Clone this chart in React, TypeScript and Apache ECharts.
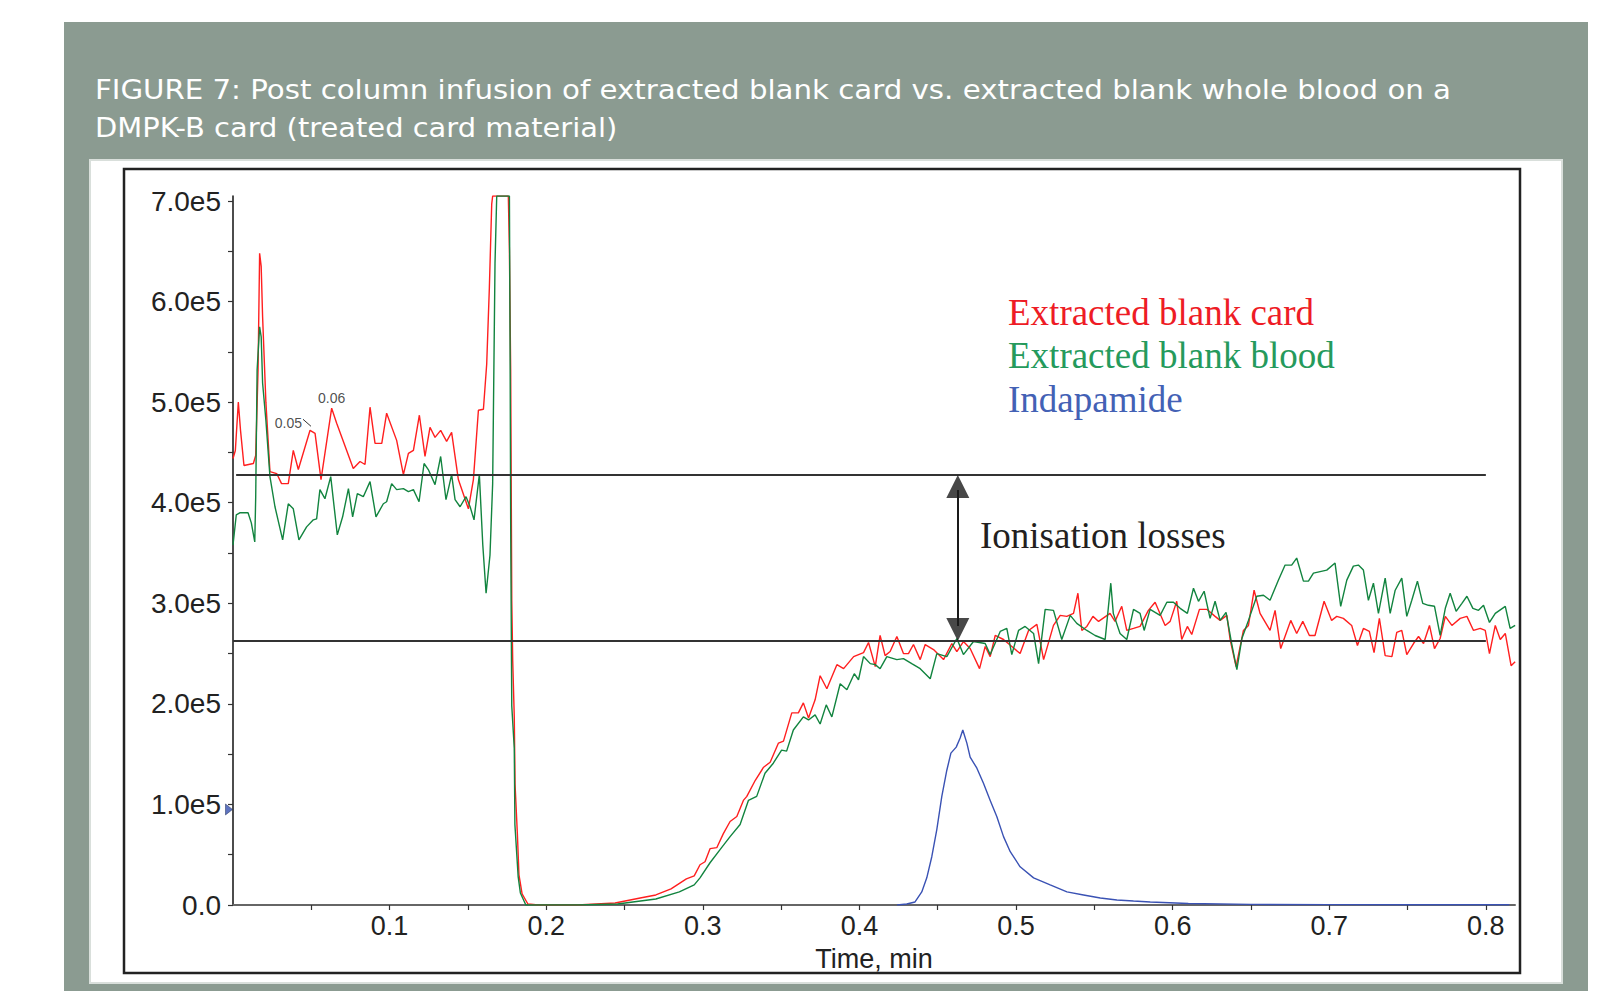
import { useEffect, useRef } from 'react';
import * as echarts from 'echarts';

// ---- Data (time in min, intensity in units of 1e5 counts) ----
const cardPoints: [number, number][] = [
  [0.0000,4.44],[0.0015,4.52],[0.0034,5.00],[0.0048,4.72],[0.0070,4.37],[0.0130,4.39],[0.0145,4.47],[0.0160,5.32],[0.0170,6.48],[0.0180,6.35],[0.0189,5.85],[0.0210,5.00],[0.0236,4.31],[0.0279,4.29],[0.0310,4.19],[0.0353,4.19],[0.0385,4.52],[0.0417,4.33],[0.0492,4.72],[0.0524,4.69],[0.0562,4.23],[0.0630,4.94],[0.0662,4.79],[0.0768,4.34],[0.0811,4.41],[0.0843,4.38],[0.0875,4.95],[0.0907,4.59],[0.0950,4.59],[0.0981,4.89],[0.1045,4.62],[0.1088,4.28],[0.1120,4.49],[0.1152,4.52],[0.1190,4.87],[0.1226,4.46],[0.1258,4.75],[0.1290,4.65],[0.1326,4.72],[0.1364,4.61],[0.1396,4.70],[0.1439,4.23],[0.1503,3.94],[0.1535,4.23],[0.1567,4.92],[0.1599,4.93],[0.1620,5.38],[0.1637,6.14],[0.1652,6.97],[0.1658,7.05],[0.1758,7.05],[0.1765,6.51],[0.1773,5.32],[0.1780,3.03],[0.1786,2.43],[0.1796,1.87],[0.1801,1.20],[0.1816,0.70],[0.1826,0.30],[0.1846,0.11],[0.1883,0.01],[0.1950,0.00],[0.2200,0.00],[0.2440,0.02],[0.2600,0.07],[0.2700,0.10],[0.2797,0.16],[0.2895,0.26],[0.2945,0.29],[0.2982,0.40],[0.3014,0.43],[0.3046,0.56],[0.3089,0.57],[0.3131,0.71],[0.3174,0.83],[0.3217,0.88],[0.3259,1.04],[0.3281,1.08],[0.3335,1.24],[0.3388,1.37],[0.3430,1.42],[0.3483,1.61],[0.3515,1.63],[0.3568,1.91],[0.3610,1.91],[0.3642,2.01],[0.3675,1.86],[0.3717,2.04],[0.3749,2.28],[0.3792,2.15],[0.3856,2.39],[0.3899,2.35],[0.3963,2.47],[0.4026,2.51],[0.4058,2.61],[0.4101,2.37],[0.4132,2.68],[0.4164,2.48],[0.4196,2.52],[0.4239,2.67],[0.4281,2.50],[0.4313,2.50],[0.4345,2.59],[0.4388,2.44],[0.4420,2.59],[0.4473,2.54],[0.4537,2.44],[0.4590,2.60],[0.4622,2.52],[0.4664,2.62],[0.4707,2.55],[0.4767,2.35],[0.4803,2.57],[0.4835,2.47],[0.4867,2.68],[0.4920,2.64],[0.4973,2.57],[0.5026,2.50],[0.5080,2.73],[0.5133,2.79],[0.5176,2.44],[0.5239,2.78],[0.5282,2.88],[0.5324,2.87],[0.5367,2.90],[0.5395,3.10],[0.5420,2.73],[0.5452,2.77],[0.5491,2.87],[0.5527,2.82],[0.5600,2.90],[0.5632,2.82],[0.5675,2.97],[0.5707,2.73],[0.5750,2.75],[0.5792,2.77],[0.5845,2.93],[0.5888,3.01],[0.5952,2.78],[0.5984,2.82],[0.6026,3.02],[0.6058,2.64],[0.6094,2.77],[0.6122,2.69],[0.6171,2.94],[0.6218,2.94],[0.6271,2.87],[0.6303,2.83],[0.6346,2.88],[0.6367,2.64],[0.6405,2.37],[0.6452,2.73],[0.6484,2.78],[0.6520,3.13],[0.6558,2.90],[0.6622,2.73],[0.6654,2.93],[0.6690,2.55],[0.6754,2.83],[0.6792,2.70],[0.6831,2.82],[0.6873,2.68],[0.6909,2.68],[0.6967,3.02],[0.7015,2.83],[0.7048,2.87],[0.7090,2.85],[0.7143,2.78],[0.7180,2.58],[0.7218,2.75],[0.7256,2.72],[0.7286,2.51],[0.7320,2.85],[0.7357,2.48],[0.7400,2.47],[0.7431,2.71],[0.7463,2.73],[0.7495,2.49],[0.7538,2.60],[0.7570,2.67],[0.7602,2.60],[0.7640,2.78],[0.7672,2.55],[0.7708,2.65],[0.7741,2.87],[0.7783,2.78],[0.7836,2.85],[0.7879,2.87],[0.7921,2.73],[0.7964,2.75],[0.7996,2.73],[0.8023,2.50],[0.8060,2.78],[0.8092,2.64],[0.8124,2.70],[0.8161,2.38],[0.8187,2.42]
];

const bloodPoints: [number, number][] = [
  [0.0000,3.58],[0.0021,3.88],[0.0043,3.90],[0.0096,3.90],[0.0117,3.80],[0.0139,3.61],[0.0145,4.06],[0.0154,5.32],[0.0170,5.75],[0.0180,5.65],[0.0189,5.19],[0.0210,4.82],[0.0236,4.26],[0.0268,3.96],[0.0317,3.63],[0.0353,3.99],[0.0385,3.94],[0.0421,3.63],[0.0470,3.76],[0.0513,3.83],[0.0534,3.84],[0.0555,4.13],[0.0587,4.04],[0.0624,4.26],[0.0666,3.68],[0.0700,3.86],[0.0737,4.14],[0.0764,3.86],[0.0794,4.09],[0.0832,4.06],[0.0875,4.21],[0.0913,3.86],[0.0960,3.99],[0.0981,4.01],[0.1013,4.19],[0.1045,4.13],[0.1088,4.14],[0.1120,4.11],[0.1152,4.13],[0.1188,4.01],[0.1220,4.39],[0.1247,4.33],[0.1290,4.18],[0.1326,4.46],[0.1360,4.03],[0.1396,4.28],[0.1418,4.03],[0.1450,3.96],[0.1488,4.06],[0.1514,3.96],[0.1539,3.83],[0.1573,4.28],[0.1595,3.58],[0.1616,3.10],[0.1641,3.48],[0.1658,4.19],[0.1673,6.38],[0.1684,7.05],[0.1765,7.05],[0.1769,5.65],[0.1773,3.83],[0.1776,3.00],[0.1780,1.98],[0.1796,1.56],[0.1800,0.80],[0.1821,0.28],[0.1835,0.12],[0.1870,0.00],[0.2200,0.00],[0.2455,0.01],[0.2700,0.06],[0.2850,0.13],[0.2945,0.20],[0.2982,0.27],[0.3046,0.42],[0.3110,0.55],[0.3174,0.68],[0.3238,0.80],[0.3291,1.04],[0.3344,1.08],[0.3397,1.31],[0.3450,1.41],[0.3503,1.54],[0.3535,1.53],[0.3578,1.74],[0.3642,1.87],[0.3675,1.84],[0.3717,1.89],[0.3749,1.80],[0.3788,1.99],[0.3824,1.87],[0.3877,2.20],[0.3920,2.14],[0.3967,2.30],[0.3994,2.24],[0.4026,2.47],[0.4069,2.40],[0.4101,2.39],[0.4132,2.35],[0.4175,2.47],[0.4239,2.44],[0.4281,2.45],[0.4334,2.40],[0.4388,2.35],[0.4452,2.25],[0.4494,2.50],[0.4558,2.47],[0.4622,2.65],[0.4664,2.49],[0.4728,2.62],[0.4803,2.60],[0.4835,2.49],[0.4899,2.72],[0.4941,2.75],[0.4973,2.49],[0.5016,2.73],[0.5058,2.77],[0.5112,2.70],[0.5144,2.40],[0.5186,2.94],[0.5239,2.93],[0.5292,2.64],[0.5346,2.88],[0.5388,2.80],[0.5452,2.73],[0.5505,2.68],[0.5569,2.64],[0.5605,3.20],[0.5621,2.90],[0.5664,2.70],[0.5707,2.64],[0.5750,2.94],[0.5792,2.90],[0.5818,2.73],[0.5856,2.94],[0.5920,2.88],[0.5963,3.01],[0.6005,3.01],[0.6048,2.95],[0.6094,2.90],[0.6133,3.15],[0.6165,3.02],[0.6201,3.12],[0.6239,2.85],[0.6271,3.02],[0.6303,2.83],[0.6341,2.91],[0.6378,2.59],[0.6410,2.34],[0.6442,2.65],[0.6484,2.83],[0.6537,3.07],[0.6580,3.08],[0.6622,3.03],[0.6675,3.23],[0.6718,3.38],[0.6760,3.38],[0.6792,3.45],[0.6835,3.22],[0.6867,3.22],[0.6899,3.30],[0.6984,3.33],[0.7037,3.40],[0.7073,2.97],[0.7112,3.23],[0.7154,3.37],[0.7186,3.38],[0.7218,3.33],[0.7250,3.03],[0.7282,3.20],[0.7314,2.90],[0.7357,3.25],[0.7389,2.90],[0.7421,3.13],[0.7463,3.25],[0.7495,2.87],[0.7527,3.03],[0.7563,3.22],[0.7597,3.00],[0.7633,2.98],[0.7672,2.97],[0.7708,2.68],[0.7741,2.95],[0.7772,3.10],[0.7810,2.92],[0.7847,3.00],[0.7879,3.07],[0.7917,2.95],[0.7953,2.93],[0.7985,2.98],[0.8023,2.81],[0.8060,2.90],[0.8124,2.97],[0.8155,2.75],[0.8187,2.78]
];

const indapamidePoints: [number, number][] = [
  [0.4240,0.00],[0.4302,0.01],[0.4355,0.03],[0.4398,0.13],[0.4430,0.27],[0.4462,0.48],[0.4494,0.75],[0.4526,1.08],[0.4558,1.34],[0.4584,1.51],[0.4618,1.57],[0.4643,1.66],[0.4660,1.74],[0.4686,1.61],[0.4707,1.47],[0.4750,1.36],[0.4792,1.21],[0.4835,1.04],[0.4877,0.88],[0.4920,0.68],[0.4963,0.53],[0.5026,0.38],[0.5112,0.27],[0.5218,0.20],[0.5325,0.13],[0.5431,0.10],[0.5538,0.07],[0.5644,0.05],[0.5750,0.04],[0.5857,0.03],[0.6100,0.015],[0.6500,0.006],[0.7000,0.004],[0.7500,0.003],[0.8150,0.002]
];

const seriesNames = ['Extracted blank card', 'Extracted blank blood', 'Indapamide'];
const seriesColors = ['#ff1f1f', '#12843f', '#3a52b4'];
const legendColors = ['#ee1c25', '#259a5c', '#4361b5'];

const xTickValues = [0.05,0.1,0.15,0.2,0.25,0.3,0.35,0.4,0.45,0.5,0.55,0.6,0.65,0.7,0.75,0.8];
const xLabelValues = [0.1,0.2,0.3,0.4,0.5,0.6,0.7,0.8];
const yTickValues = [0,0.5,1,1.5,2,2.5,3,3.5,4,4.5,5,5.5,6,6.5,7];
const yLabelValues = [0,1,2,3,4,5,6,7];

const upperLevel = 4.276;
const lowerLevel = 2.625;
const arrowTime = 0.4628;
const peakNotes: [number, number, string][] = [[0.0492, 4.72, '0.05'], [0.0630, 4.94, '0.06']];
const infusionMarker: [number, number] = [0, 0.95];

const titleLines = [
  'FIGURE 7: Post column infusion of extracted blank card vs. extracted blank whole blood on a',
  'DMPK-B card (treated card material)',
];

const SANS = 'Liberation Sans, Arial, sans-serif';

export default function App() {
  const ref = useRef<HTMLDivElement>(null);
  useEffect(() => {
    document.body.style.margin = '0';
    const chart = echarts.init(ref.current!, undefined, { renderer: 'svg' });
    const lineSeries = [cardPoints, bloodPoints, indapamidePoints].map((pts, i) => ({
      type: 'line',
      name: seriesNames[i],
      data: pts,
      showSymbol: false,
      symbol: 'none',
      lineStyle: { color: seriesColors[i], width: 1.4 },
      z: 3 + i,
      silent: true,
    }));
    const option: any = {
      animation: false,
      backgroundColor: '#ffffff',
      grid: { left: 233, right: 93, top: 196, bottom: 86, containLabel: false },
      xAxis: {
        type: 'value',
        min: 0,
        max: 0.8186,
        axisLine: { show: true, onZero: false, lineStyle: { color: '#666', width: 2 } },
        axisTick: { show: true, customValues: xTickValues, length: 5, lineStyle: { color: '#333', width: 1.2 } },
        axisLabel: {
          customValues: xLabelValues,
          formatter: (v: number) => v.toFixed(1),
          fontFamily: SANS,
          fontSize: 27,
          color: '#222',
          margin: 7,
        },
        splitLine: { show: false },
        name: 'Time, min',
        nameLocation: 'middle',
        nameGap: 40,
        nameTextStyle: { fontFamily: SANS, fontSize: 27, color: '#222' },
      },
      yAxis: {
        type: 'value',
        min: 0,
        max: 7.05,
        axisLine: { show: true, onZero: false, lineStyle: { color: '#111', width: 1.5 } },
        axisTick: { show: true, customValues: yTickValues, length: 5, lineStyle: { color: '#333', width: 1.2 } },
        axisLabel: {
          customValues: yLabelValues,
          formatter: (v: number) => (v === 0 ? '0.0' : v.toFixed(1) + 'e5'),
          fontFamily: SANS,
          fontSize: 28,
          color: '#222',
          margin: 12,
        },
        splitLine: { show: false },
      },
      series: [
        ...lineSeries,
        {
          type: 'scatter',
          name: 'annotations',
          clip: false,
          silent: true,
          z: 10,
          data: [
            {
              value: [arrowTime, upperLevel],
              symbol: 'path://M0,0L1,2L-1,2Z',
              symbolSize: [23, 23],
              symbolOffset: [0, 11.5],
              itemStyle: { color: '#1a1a1a' },
            },
            {
              value: [arrowTime, lowerLevel],
              symbol: 'path://M-1,0L1,0L0,2Z',
              symbolSize: [23, 23],
              symbolOffset: [0, -11.5],
              itemStyle: { color: '#1a1a1a' },
            },
            {
              value: infusionMarker,
              symbol: 'path://M0,0L2,1L0,2Z',
              symbolSize: [7, 11],
              symbolOffset: [-4, 0],
              itemStyle: { color: '#3550b0', borderColor: '#1c2a55', borderWidth: 0.6 },
            },
            ...peakNotes.map((p, i) => ({
              value: [p[0], p[1]],
              symbol: 'circle',
              symbolSize: 0.1,
              itemStyle: { color: 'transparent' },
              label: {
                show: true,
                formatter: p[2],
                position: i === 0 ? 'left' : 'top',
                distance: i === 0 ? 8 : 3,
                offset: i === 0 ? [0, -7] : [0, 0],
                fontFamily: SANS,
                fontSize: 14,
                color: '#222',
              },
            })),
          ],
          markLine: {
            silent: true,
            symbol: ['none', 'none'],
            label: { show: false },
            data: [
              [
                { coord: [0.002, upperLevel], lineStyle: { color: '#333', width: 2, type: 'solid' } },
                { coord: [0.8, upperLevel] },
              ],
              [
                { coord: [0.0, lowerLevel], lineStyle: { color: '#333', width: 2, type: 'solid' } },
                { coord: [0.8, lowerLevel] },
              ],
              [
                { coord: [arrowTime, upperLevel - 0.15], lineStyle: { color: '#1a1a1a', width: 2, type: 'solid' } },
                { coord: [arrowTime, lowerLevel + 0.15] },
              ],
              [
                { coord: [0.0447, 4.83], lineStyle: { color: '#333', width: 1, type: 'solid' } },
                { coord: [0.0498, 4.76] },
              ],
            ],
          },
        },
      ],
      graphic: [
        { type: 'rect', z: -100, shape: { x: 64, y: 22, width: 1524, height: 969 }, style: { fill: '#8b9b91' }, silent: true },
        { type: 'rect', z: -99, shape: { x: 90, y: 160, width: 1472, height: 823 }, style: { fill: '#ffffff', stroke: '#d9dfdb', lineWidth: 2 }, silent: true },
        { type: 'rect', z: -98, shape: { x: 124, y: 169, width: 1396, height: 804 }, style: { fill: 'none', stroke: '#222', lineWidth: 2.5 }, silent: true },
        ...titleLines.map((t, i) => ({
          type: 'text',
          z: 20,
          x: 95,
          y: 89.5 + i * 38,
          scaleX: i === 0 ? 1.083 : 1.072,
          silent: true,
          style: { text: t, fill: '#ffffff', font: '27px "DejaVu Sans", sans-serif', verticalAlign: 'middle', align: 'left' },
        })),
        ...seriesNames.map((t, i) => ({
          type: 'text',
          z: 20,
          x: 1008,
          y: 312.5 + i * 43.3,
          silent: true,
          style: { text: t, fill: legendColors[i], font: '37px "Liberation Serif", serif', verticalAlign: 'middle', align: 'left' },
        })),
        {
          type: 'text',
          z: 20,
          x: 980,
          y: 535.5,
          silent: true,
          style: { text: 'Ionisation losses', fill: '#231f20', font: '37px "Liberation Serif", serif', verticalAlign: 'middle', align: 'left' },
        },
      ],
    };
    chart.setOption(option);
    return () => chart.dispose();
  }, []);
  return <div ref={ref} style={{ width: 1608, height: 991 }} />;
}
